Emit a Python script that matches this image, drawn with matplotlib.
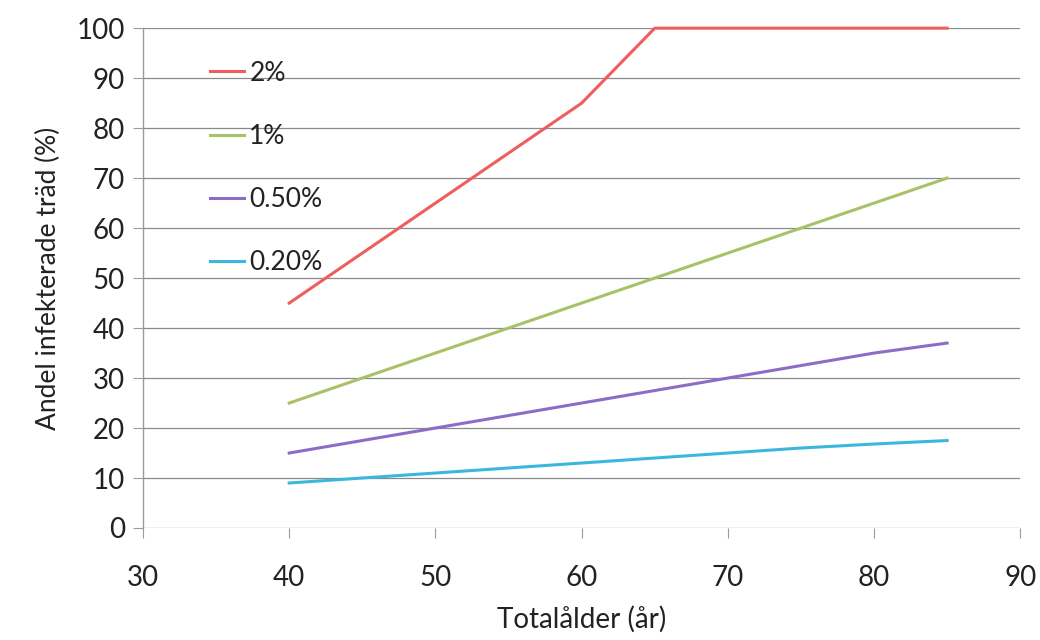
import matplotlib.pyplot as plt

# Totalålder (år) and share of infected trees (%) per infection level
ages = [40, 45, 50, 55, 60, 65, 70, 75, 80, 85]
andel_2 = [45, 55, 65, 75, 85, 100, 100, 100, 100, 100]
andel_1 = [25, 30, 35, 40, 45, 50, 55, 60, 65, 70]
andel_05 = [15, 17.5, 20, 22.5, 25, 27.5, 30, 32.5, 35, 37]
andel_02 = [9, 10, 11, 12, 13, 14, 15, 16, 16.8, 17.5]

labels = ["2%", "1%", "0.50%", "0.20%"]
colors = ["#EF5D5D", "#A9C268", "#8C6DC6", "#3DB6DD"]
x_ticks = [30, 40, 50, 60, 70, 80, 90]
y_ticks = list(range(0, 101, 10))

plt.rcParams['font.family'] = ['Lato', 'DejaVu Sans']

fig = plt.figure(figsize=(10.4, 6.4), dpi=100)
ax = fig.add_axes([0.1375, 0.175, 0.8435, 0.781])

for vals, lab, col in zip([andel_2, andel_1, andel_05, andel_02], labels, colors):
    ax.plot(ages, vals, color=col, linewidth=2.2, label=lab, clip_on=False)

ax.set_xlim(30, 90)
ax.set_ylim(0, 100)
ax.set_xticks(x_ticks)
ax.set_yticks(y_ticks)
ax.grid(True, axis='y', color='#8a8a8a', linewidth=0.9)
ax.set_axisbelow(True)

for s in ['top', 'right', 'bottom']:
    ax.spines[s].set_visible(False)
ax.spines['left'].set_color('#9a9a9a')
ax.spines['left'].set_linewidth(1.0)

ax.tick_params(axis='x', direction='out', length=7, color='#9a9a9a', pad=20,
               labelsize=20, labelcolor='#222222')
ax.tick_params(axis='y', direction='out', length=7, color='#9a9a9a', pad=6,
               labelsize=20, labelcolor='#222222')

ax.set_xlabel("Totalålder (år)", fontsize=20, color='#222222', labelpad=10)
ax.set_ylabel("Andel infekterade träd (%)", fontsize=19, color='#222222', labelpad=11)

ax.legend(loc='upper left', bbox_to_anchor=(0.076, 0.935), frameon=False,
          fontsize=19, handlelength=1.3, handletextpad=0.2, labelspacing=1.45,
          borderpad=0, borderaxespad=0, labelcolor='#222222')

fig.savefig("out.png", dpi=100)
